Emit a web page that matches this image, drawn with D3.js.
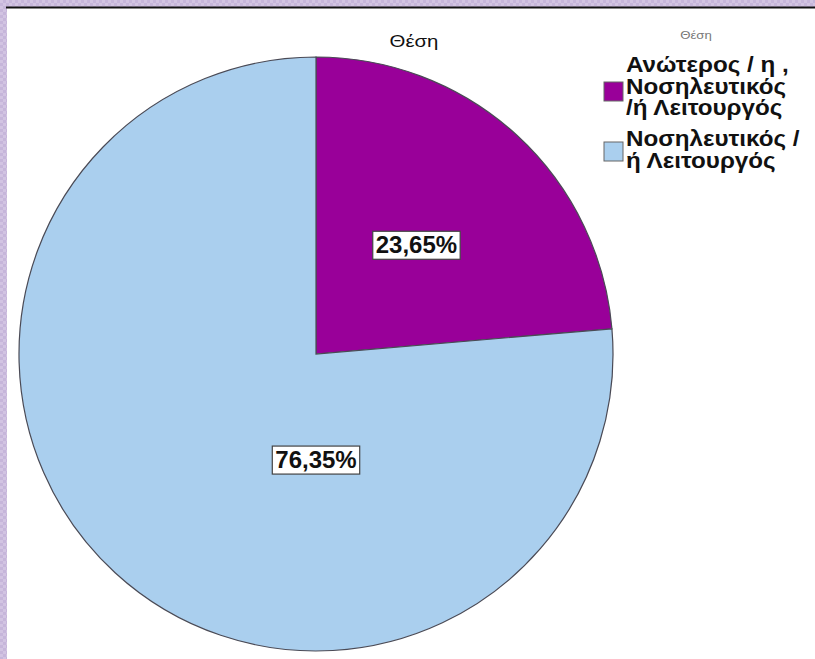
<!DOCTYPE html>
<meta charset="utf-8">
<style>
body { margin: 0; }
text { font-family: "Liberation Sans", Arial, sans-serif; }
</style>
<div id="chart"></div>
<script src="https://cdn.jsdelivr.net/npm/d3@7"></script>
<script>

var categories = ["Ανώτερος / η , Νοσηλευτικός /ή Λειτουργός", "Νοσηλευτικός / ή Λειτουργός"];
var legendLines = [["Ανώτερος / η ,", "Νοσηλευτικός", "/ή Λειτουργός"], ["Νοσηλευτικός /", "ή Λειτουργός"]];
var values = [23.65, 76.35];
var labels = ["23,65%", "76,35%"];
var colors = ["#990099", "#aacfee"];
var title = "Θέση";

var W = 815, H = 659;
var svg = d3.select("#chart").append("svg")
    .attr("width", W)
    .attr("height", H);

// lavender checker frame
var defs = svg.append("defs");
var pat = defs.append("pattern")
    .attr("id", "check")
    .attr("width", 6).attr("height", 6)
    .attr("patternUnits", "userSpaceOnUse");
pat.append("rect").attr("width", 6).attr("height", 6).attr("fill", "#c6b6da");
pat.append("rect").attr("width", 3).attr("height", 3).attr("fill", "#d2c4e2");
pat.append("rect").attr("x", 3).attr("y", 3).attr("width", 3).attr("height", 3).attr("fill", "#d2c4e2");

svg.append("rect").attr("width", W).attr("height", H).attr("fill", "url(#check)");
svg.append("rect").attr("x", 7).attr("y", 8).attr("width", W - 7).attr("height", H - 8).attr("fill", "#fff");
svg.append("line").attr("x1", 6).attr("x2", W).attr("y1", 7.5).attr("y2", 7.5)
    .attr("stroke", "#111").attr("stroke-width", 2);

var cx = 316, cy = 354, r = 297;

var pie = d3.pie().sort(null).value(function(d) { return d; });
var arc = d3.arc().innerRadius(0).outerRadius(r);
var arcs = pie(values);

var g = svg.append("g").attr("transform", "translate(" + cx + "," + cy + ")");

g.selectAll("path")
    .data(arcs)
    .enter().append("path")
      .attr("d", arc)
      .attr("fill", function(d, i) { return colors[i]; })
      .attr("stroke", "#4a4a55")
      .attr("stroke-width", 1.2);

// labels: half radius along the slice middle; the big slice sits below the centre
var lab = g.selectAll(".lab")
    .data(arcs)
    .enter().append("g")
      .attr("class", "lab")
      .attr("transform", function(d) {
        var p = (d.endAngle - d.startAngle) > Math.PI ? [0, r * 0.355] : arc.centroid(d);
        return "translate(" + p[0] + "," + p[1] + ")";
      });

lab.append("text")
    .attr("text-anchor", "middle")
    .attr("dy", "0.36em")
    .style("font-size", "24px")
    .style("font-weight", "bold")
    .attr("fill", "#111")
    .text(function(d, i) { return labels[i]; })
    .each(function() {
      var b = this.getBBox();
      d3.select(this.parentNode).insert("rect", "text")
          .attr("x", b.x - 3).attr("y", b.y)
          .attr("width", b.width + 6).attr("height", b.height + 1)
          .attr("fill", "#fff")
          .attr("stroke", "#444")
          .attr("stroke-width", 1.2);
    });

svg.append("text")
    .attr("transform", "translate(414,47) scale(1.2,1)")
    .attr("text-anchor", "middle")
    .style("font-size", "17px")
    .attr("fill", "#111")
    .text(title);

// legend
var legend = svg.append("g").attr("transform", "translate(604,0)");
legend.append("text")
    .attr("transform", "translate(92,39) scale(1.2,1)")
    .attr("text-anchor", "middle")
    .style("font-size", "11px")
    .attr("fill", "#777")
    .text(title);

var groupTop = [72, 146];
var item = legend.selectAll(".item")
    .data(categories)
    .enter().append("g")
      .attr("class", "item")
      .attr("transform", function(d, i) { return "translate(0," + groupTop[i] + ")"; });

item.append("rect")
    .attr("x", 0)
    .attr("y", function(d, i) { return i === 0 ? 10 : -4; })
    .attr("width", 19).attr("height", 19)
    .attr("fill", function(d, i) { return colors[i]; })
    .attr("stroke", "#666");

item.append("text")
    .attr("transform", "translate(22,0) scale(1.1,1)")
    .style("font-size", "22px")
    .style("font-weight", "bold")
    .attr("fill", "#111")
    .selectAll("tspan")
    .data(function(d, i) { return legendLines[i]; })
    .enter().append("tspan")
      .attr("x", 0)
      .attr("y", function(d, j) { return j * 21.7; })
      .text(function(d) { return d; });

</script>
